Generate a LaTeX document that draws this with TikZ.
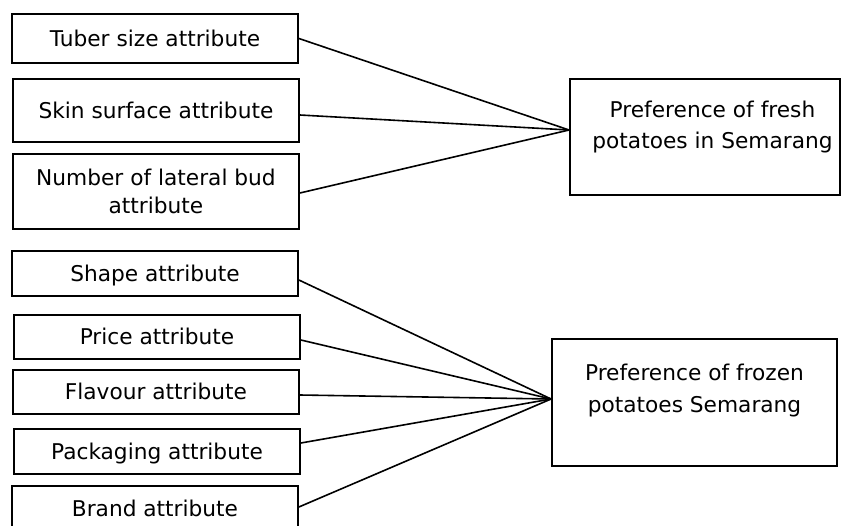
\documentclass[tikz,border=0pt]{standalone}
\usepackage{fontspec}
\setmainfont{DejaVu Sans}
\begin{document}
\begin{tikzpicture}[x=1pt,y=-1pt,
  every node/.style={font=\fontsize{21.7}{26}\selectfont},
  box/.style={draw, line width=1.8pt, inner sep=0pt, text height=15.8pt, text depth=0pt},
  txt/.style={inner sep=0pt, anchor=base},
  link/.style={line width=1.6pt}]
\path[use as bounding box, clip] (0,0) rectangle (843,525);
\fill[white] (0,0) rectangle (843,525);
% fresh group
\node[box, minimum width=286pt, minimum height=49pt] (tuber) at (155,38.5) {Tuber size attribute};
\node[box, minimum width=286pt, minimum height=63pt] (skin) at (156,110.5) {Skin surface attribute};
\node[box, minimum width=286pt, minimum height=75pt] (number) at (156,191.5) {};
\node[txt] (numberA) at (156,185) {Number of lateral bud};
\node[txt] (numberB) at (156,213) {attribute};
\node[box, minimum width=270pt, minimum height=116pt] (fresh) at (705,137) {};
\node[txt] (freshA) at (712.5,117.5) {Preference of fresh};
\node[txt] (freshB) at (712.5,148) {potatoes in Semarang};
% frozen group
\node[box, minimum width=286pt, minimum height=45pt] (shape) at (155,273.5) {Shape attribute};
\node[box, minimum width=286pt, minimum height=44pt] (price) at (157,337) {Price attribute};
\node[box, minimum width=286pt, minimum height=44pt] (flavour) at (156,392) {Flavour attribute};
\node[box, minimum width=286pt, minimum height=45pt] (packaging) at (157,451.5) {Packaging attribute};
\node[box, minimum width=286pt, minimum height=45pt] (brand) at (155,508.5) {Brand attribute};
\node[box, minimum width=285pt, minimum height=127pt] (frozen) at (694.5,402.5) {};
\node[txt] (frozenA) at (694.5,380) {Preference of frozen};
\node[txt] (frozenB) at (694.5,412.5) {potatoes Semarang};
% connectors
\coordinate (fin) at ([yshift=7pt]fresh.west);
\draw[link] (tuber.east) -- (fin);
\draw[link] ([yshift=-4.5pt]skin.east) -- (fin);
\draw[link] ([yshift=-1.5pt]number.east) -- (fin);
\coordinate (zin) at ([yshift=3.5pt]frozen.west);
\draw[link] ([yshift=-6.5pt]shape.east) -- (zin);
\draw[link] ([yshift=-3pt]price.east) -- (zin);
\draw[link] ([yshift=-3pt]flavour.east) -- (zin);
\draw[link] ([yshift=8.5pt]packaging.east) -- (zin);
\draw[link] ([yshift=1.5pt]brand.east) -- (zin);
\end{tikzpicture}
\end{document}
